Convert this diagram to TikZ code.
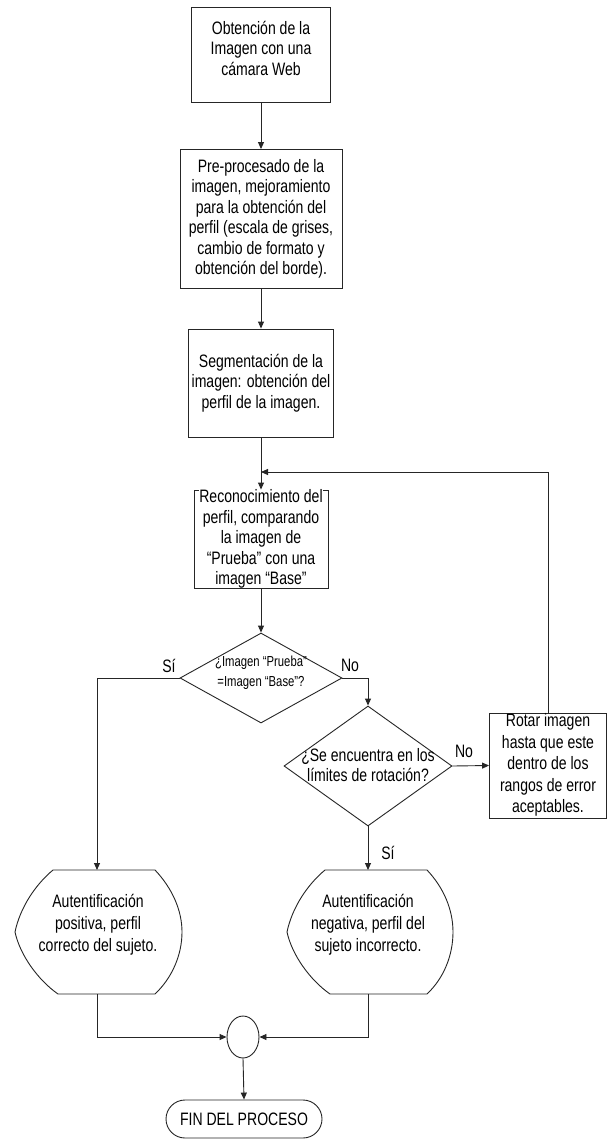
\documentclass[tikz,border=0pt]{standalone}
\usepackage{fontspec}
\setmainfont{Liberation Sans}[FakeStretch=0.78]
\usetikzlibrary{arrows.meta,shapes.geometric}
\tikzset{
  ln/.style={draw=black!85, line width=0.9pt},
  arr/.style={ln, -{Triangle[length=7pt,width=6pt]}},
  box/.style={ln, rectangle, inner sep=0pt},
  txt/.style={align=center, inner sep=0pt, font=\fontsize{18}{20.5}\selectfont},
  smalltxt/.style={align=center, inner sep=0pt, font=\fontsize{14.5}{20}\selectfont},
  lbl/.style={inner sep=0pt, font=\fontsize{18}{20}\selectfont},
}
\begin{document}
\begin{tikzpicture}[x=1pt,y=-1pt]
\path[use as bounding box, fill=white] (0,0) rectangle (609,1140);

% boxes
\node[box, minimum width=139pt, minimum height=95pt] (b1) at (261,55) {};
\node[txt] at (261,48) {Obtención de la\\Imagen con una\\cámara Web};

\node[box, minimum width=162pt, minimum height=139pt] (b2) at (261,219) {};
\node[txt] at (261,219) {Pre-procesado de la\\imagen, mejoramiento\\para la obtención del\\perfil (escala de grises,\\cambio de formato y\\obtención del borde).};

\node[box, minimum width=145pt, minimum height=108pt] (b3) at (261,383) {};
\node[txt] at (261,383) {Segmentación de la\\imagen: obtención del\\perfil de la imagen.};

\node[box, minimum width=134pt, minimum height=98pt] (b4) at (261,539) {};
\node[txt, fill=white] at (261,539) {Reconocimiento del\\perfil, comparando\\la imagen de\\“Prueba” con una\\imagen “Base”};

% decisions
\node[ln, diamond, minimum width=162pt, minimum height=90pt, inner sep=0pt] (d1) at (261,678) {};
\node[smalltxt] at (261,673) {¿Imagen “Prueba”\\=Imagen “Base”?};

\node[ln, diamond, minimum width=168pt, minimum height=120pt, inner sep=0pt] (d2) at (368,766) {};
\node[txt, font=\fontsize{18}{20}\selectfont] at (368,765) {¿Se encuentra en los\\límites de rotación?};

% rotate box
\node[box, minimum width=117pt, minimum height=105pt] (rot) at (548,765.5) {};
\node[txt, font=\fontsize{18}{21.5}\selectfont, fill=white] at (548,765) {Rotar imagen\\hasta que este\\dentro de los\\rangos de error\\aceptables.};

% display shapes
\draw[ln] (53,870) -- (155,870)
  .. controls (172,888) and (182,910) .. (182,932)
  .. controls (182,955) and (172,978) .. (155,994) -- (58,994)
  .. controls (38,980) and (20,955) .. (15,932)
  .. controls (20,908) and (35,885) .. (53,870) -- cycle;
\node[txt, font=\fontsize{18}{22}\selectfont] (disp1) at (98,925) {Autentificación\\positiva, perfil\\correcto del sujeto.};
\coordinate (p1top) at (97,870);
\coordinate (p1bot) at (97,994);

\draw[ln] (325,870) -- (427,870)
  .. controls (444,888) and (453,910) .. (453,932)
  .. controls (453,955) and (444,978) .. (427,994) -- (330,994)
  .. controls (310,980) and (292,955) .. (287,932)
  .. controls (292,908) and (307,885) .. (325,870) -- cycle;
\node[txt, font=\fontsize{18}{22}\selectfont] (disp2) at (368,925) {Autentificación\\negativa, perfil del\\sujeto incorrecto.};
\coordinate (p2top) at (368,870);
\coordinate (p2bot) at (368,994);

% connector circle and terminal
\node[ln, ellipse, minimum width=32pt, minimum height=42pt, inner sep=0pt] (circ) at (243,1037) {};
\node[ln, rectangle, rounded corners=19pt, minimum width=156pt, minimum height=38pt, inner sep=0pt] (fin) at (244,1119) {};
\node[txt] at (244,1119) {FIN DEL PROCESO};

% connectors
\draw[arr] (b1.south) -- (b2.north);
\draw[arr] (b2.south) -- (b3.north);
\draw[arr] (b3.south) -- (b4.north);
\coordinate (j) at (261,472);
\draw[arr] (rot.north) |- (j);
\draw[arr] (b4.south) -- (d1.north);
\draw[arr] (d1.west) -| (p1top);
\draw[arr] (d1.east) -| (d2.north);
\draw[arr] (d2.east) -- (rot.west);
\draw[arr] (d2.south) -- (p2top);
\draw[arr] (p1bot) |- (circ.west);
\draw[arr] (p2bot) |- (circ.east);
\draw[arr] (circ.south) -- (fin.north);

% labels
\node[lbl] at (169,666) {Sí};
\node[lbl] at (350,665) {No};
\node[lbl] at (464,751) {No};
\node[lbl] at (388,853) {Sí};
\end{tikzpicture}
\end{document}
